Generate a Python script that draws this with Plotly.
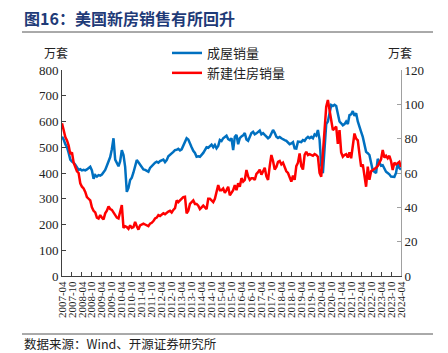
import pandas as pd
import plotly.graph_objects as go

# months 2007-04 .. 2024-04
months = [d.strftime("%Y-%m") for d in pd.date_range("2007-04-01", "2024-04-01", freq="MS")]

existing_sales = [  # 成屋销量, 万套 (left axis)
    541, 530, 512, 500, 478, 452, 444, 440, 432,
    420, 412, 415, 410, 412, 410, 414, 420, 424, 410, 378, 392,
    386, 392, 390, 394, 402, 412, 428, 442, 462, 492, 535, 452,
    437, 426, 446, 489, 470, 424, 327, 342, 373, 382, 402, 432,
    450, 442, 432, 420, 414, 412, 410, 405, 420, 428, 436, 440,
    444, 440, 446, 448, 452, 442, 450, 465, 470, 476, 482, 489,
    490, 494, 488, 492, 505, 516, 535, 530, 512, 500, 486, 478,
    463, 465, 463, 470, 478, 489, 500, 498, 504, 510, 500, 509,
    496, 505, 528, 524, 535, 541, 545, 532, 528, 535, 489, 541,
    548, 512, 535, 542, 546, 555, 530, 525, 540, 555, 560, 550,
    554, 560, 565, 550, 555, 548, 540, 535, 540, 555, 567, 556,
    541, 536, 540, 535, 530, 528, 525, 520, 512, 515, 520, 496,
    495, 522, 520, 520, 528, 525, 535, 540, 535, 540, 535, 550,
    545, 567, 530, 430, 399, 480, 590, 600, 640, 664, 660, 665,
    660, 622, 600, 593, 585, 590, 600, 590, 625, 628, 640, 622,
    632, 600, 575, 560, 540, 512, 482, 477, 470, 440, 410, 405,
    400, 455, 440, 428, 430, 415, 405, 400, 395, 386, 385, 385,
    400, 438, 419, 414,
]

new_sales = [  # 新建住房销量, 万套 (right axis)
    89, 85, 81, 79, 76, 71, 72, 66, 63,
    61, 60, 54, 52, 51, 49, 46, 45, 44, 40, 38, 37,
    34, 33.5, 35.5, 34, 33, 36.5, 38, 40.5, 39, 38.5, 37, 35,
    34, 33.5, 38, 41.3, 28, 29, 28.5, 27.5, 29.5, 28, 28.5, 31.5,
    29, 27, 29.5, 30, 30.5, 30, 29.5, 29, 30.5, 31, 32, 33.5,
    34, 35.5, 35, 36, 36.5, 36, 37, 37.5, 38, 37, 38.5, 39.5,
    44, 43, 44, 45, 46, 46.2, 36.5, 38, 42, 43, 44, 42,
    42, 41, 39, 40, 41, 40, 39, 45, 45, 44, 43, 45,
    50, 53, 50, 50, 51, 48.5, 50, 52, 47, 48.5, 50, 53,
    50, 54, 52, 57, 55, 56, 61.7, 58, 56, 57, 57, 56,
    59.5, 60.5, 62, 59, 61, 63, 58, 56, 64, 70.5, 67, 62,
    63.5, 66.5, 67, 65, 66, 63, 61, 60, 58, 55, 58.5, 56,
    64, 66, 71.4, 64, 62, 70.5, 72.4, 70.5, 71, 70.5, 70, 71,
    70.5, 69.5, 60, 57.8, 70, 85, 98.6, 102.5, 97, 89, 85, 86,
    87, 77, 85, 72, 69.5, 70.5, 71, 69, 72, 68.6, 76, 83,
    80, 79, 71, 63.7, 65, 58, 52, 63.7, 56, 61, 61.7, 62,
    63, 64, 66, 68, 73.4, 69, 70, 68.6, 70, 67, 61.7, 66,
    65, 66, 66.5, 63.5,
]

tick_labels = months[::6]

W, H = 448, 353
L, R, T, B = 62, 401, 70, 276

def px(x):
    return (x - L) / (R - L)

def py(y):
    return (B - y) / (B - T)

SERIF = "Liberation Serif, Times New Roman, serif"
CJK = "Noto Sans CJK SC, sans-serif"

fig = go.Figure()
fig.add_trace(go.Scatter(x=months, y=existing_sales, name="成屋销量", mode="lines",
                         line=dict(color="#0070C0", width=2.5), yaxis="y"))
fig.add_trace(go.Scatter(x=months, y=new_sales, name="新建住房销量", mode="lines",
                         line=dict(color="#FF0000", width=2.5), yaxis="y2"))

fig.update_layout(
    width=W, height=H,
    margin=dict(l=L, r=W - R, t=T, b=H - B, pad=0, autoexpand=False),
    paper_bgcolor="white", plot_bgcolor="white",
    showlegend=True,
    legend=dict(x=px(167), y=py(38),
                xanchor="left", yanchor="top", bgcolor="rgba(0,0,0,0)",
                font=dict(family=CJK, size=13, color="#222"),
                itemwidth=30, tracegroupgap=0),
    xaxis=dict(type="category", range=[0, len(months) - 1],
               tickmode="array", tickvals=tick_labels, ticktext=tick_labels,
               tickangle=-90, ticks="inside", ticklen=4, tickcolor="#404040",
               showline=True, linecolor="#404040", linewidth=1,
               showgrid=False, zeroline=False,
               tickfont=dict(family=SERIF, size=11, color="#222")),
    yaxis=dict(range=[0, 800], dtick=100, ticks="inside", ticklen=4,
               tickcolor="#404040", showline=True, linecolor="#404040",
               showgrid=False, zeroline=False,
               tickfont=dict(family=SERIF, size=13, color="#222")),
    yaxis2=dict(range=[0, 120], dtick=20, overlaying="y", side="right",
                ticks="inside", ticklen=4, tickcolor="#a0a0a0",
                showline=True, linecolor="#a0a0a0", showgrid=False, zeroline=False,
                tickfont=dict(family=SERIF, size=13, color="#222")),
)

ann = [
    dict(text="<b>图16：美国新房销售有所回升</b>", x=px(22), y=py(18), xanchor="left",
         yanchor="middle", font=dict(family=CJK, size=16, color="#1F3B78")),
    dict(text="万套", x=px(42), y=py(52), xanchor="left", yanchor="middle",
         font=dict(family=CJK, size=12, color="#222")),
    dict(text="万套", x=px(386), y=py(52), xanchor="left", yanchor="middle",
         font=dict(family=CJK, size=12, color="#222")),
    dict(text="数据来源：Wind、开源证券研究所", x=px(22), y=py(343), xanchor="left",
         yanchor="middle", font=dict(family=CJK, size=12.5, color="#222")),
]
for a in ann:
    a.update(xref="paper", yref="paper", showarrow=False)
fig.update_layout(annotations=ann)

fig.add_shape(type="line", xref="paper", yref="paper", x0=px(22), x1=px(433),
              y0=py(32), y1=py(32), line=dict(color="#555", width=1))
fig.add_shape(type="line", xref="paper", yref="paper", x0=px(22), x1=px(433),
              y0=py(334), y1=py(334), line=dict(color="#555", width=1))

fig.write_html("out.html")
